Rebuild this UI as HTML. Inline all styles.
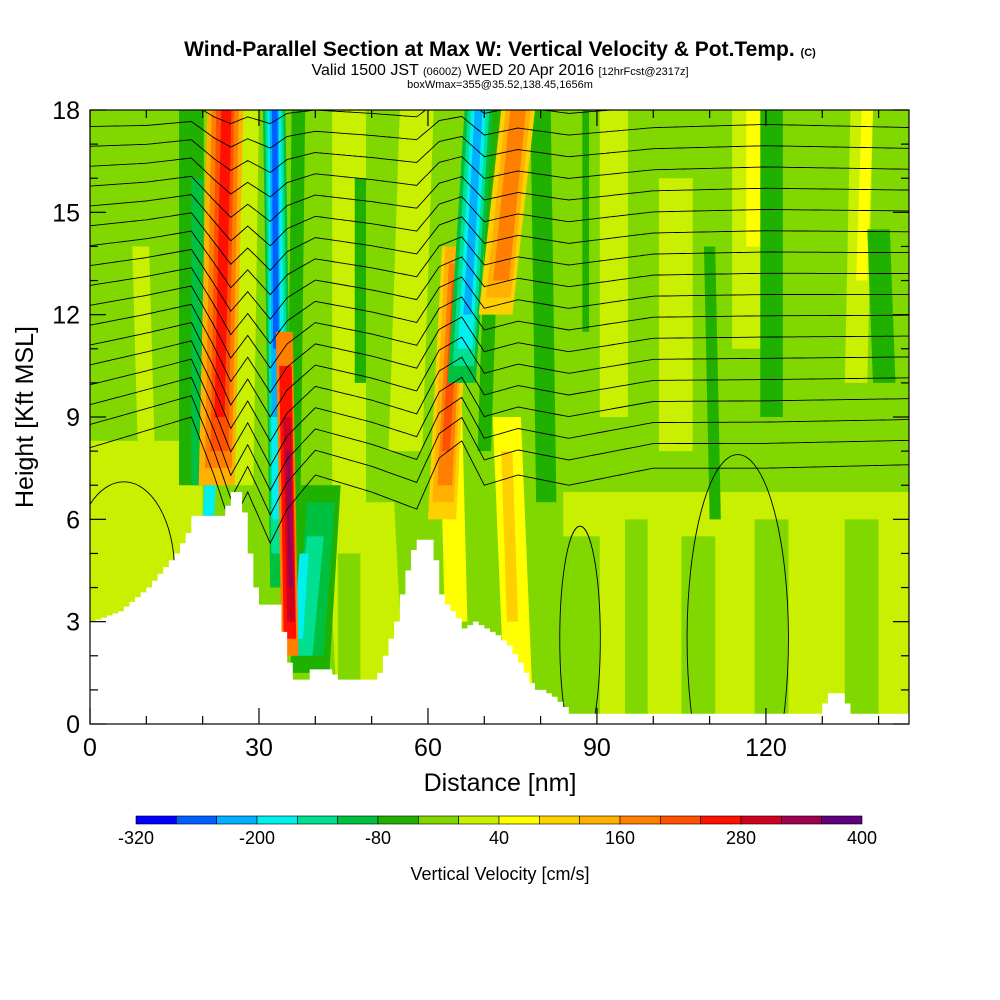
<!DOCTYPE html>
<html><head><meta charset="utf-8"><style>
body{margin:0;background:#fff;}
svg{display:block;font-family:"Liberation Sans",Arial,sans-serif;}
</style></head><body>
<svg id="chart" width="1000" height="1000" viewBox="0 0 1000 1000">
<text x="500" y="56" text-anchor="middle" font-size="21" font-weight="bold">Wind-Parallel Section at Max W: Vertical Velocity &amp; Pot.Temp. <tspan font-size="11">(C)</tspan></text>
<text x="500" y="75" text-anchor="middle" font-size="16">Valid 1500 JST <tspan font-size="11">(0600Z)</tspan> WED 20 Apr 2016 <tspan font-size="11">[12hrFcst@2317z]</tspan></text>
<text x="500" y="88" text-anchor="middle" font-size="11">boxWmax=355@35.52,138.45,1656m</text>
<defs><clipPath id="pc"><rect x="90" y="110" width="819" height="614"/></clipPath></defs>
<g id="field" clip-path="url(#pc)"></g>
<g id="cont" clip-path="url(#pc)"></g>
<g id="terr" clip-path="url(#pc)"></g>
<g id="axes"></g>
<rect x="90" y="110" width="819" height="614" fill="none" stroke="#000" stroke-width="1.2"/>
<text x="500" y="791" text-anchor="middle" font-size="25">Distance [nm]</text>
<text transform="translate(33,417) rotate(-90)" text-anchor="middle" font-size="25">Height [Kft MSL]</text>
<g id="cbar"></g>
<text x="500" y="880" text-anchor="middle" font-size="18">Vertical Velocity [cm/s]</text>
</svg>
<script>
const NS="http://www.w3.org/2000/svg";
const levelColors=["#0000ff","#0060ff","#00b0ff","#00f0f0","#00e090","#00c040","#20b000","#80d800","#c8f000","#ffff00","#ffd000","#ffb000","#ff8000","#ff5000","#ff1000","#d00020","#a00050","#600080"];
const levelTicks=[-320,-200,-80,40,160,280,400];
// streaks: [nm at bottom, nm at top, kft bottom, kft top, half-width nm, level]
const streaks=[
[8,8,0,8.3,12,8],[115,115,0,6.8,31,8],[50,48,0,6.5,6,8],
[87,87,0,5.5,3.5,7],[97,97,0,6,2,7],[108,108,0,5.5,3,7],[121,121,0,6,3,7],[137,137,0,6,3,7],[46,46,0,5,2,7],
[10,9,8,14,1.5,8],[27,28,7,18,2,8],[46,46,6,18,3,8],[56,58,8,18,3,8],
[93,93,9,18,2.5,8],[104,104,8,16,3,8],[117,117,11,18,3,8],[118,118,14,18,1.5,9],[136,137,10,18,2,8],[137,138,13,18,1,9],
[18,18,7,18,2.2,6],[19,19,7,16,1,5],[36,37,4,18,1.2,6],[48,48,10,16,1,6],[70,72,8,18,1.2,6],[81,80,6.5,18,1.8,6],[88,88,11.5,18,0.6,6],[121,121,9,18,2,6],[141,140,10,14.5,2,6],[111,110,6,14,1,6],
[76,74,1,9,2.5,9],[75,74,3,8,1,10],[65,64,3,9.5,2,9],
[39,41,1.5,7,3.5,6],[39,41,2,6.5,2.5,5],[38,40,2,5.5,1.5,4],[37,38,2.5,5,0.8,3],[21,22,6,9,1,3],
[22.5,24,7,18,3.2,11],[22.8,24,7.5,18,2.4,12],[23,24,8,18,1.6,13],[23,24.2,9,18,0.9,14],
[34,32.7,4,18,2,5],[33.8,32.7,5,18,1.6,4],[33.6,32.7,6,18,1.2,3],[33,32.7,9,18,0.8,2],[33,32.8,11,18,0.5,1],
[35.5,34.5,2,11.5,1.5,12],[35.5,34.7,2.5,10.5,1.1,14],[35.7,35,3,9,0.7,15],[35.7,35.2,4,8,0.4,16],
[62.5,65,6,14,2.5,10],[62.7,65,6.5,14,1.9,11],[63,65,7,13.5,1.3,12],[63.2,65,8,13,0.7,13],
[66,69,10,18,2.5,5],[66.3,69,10.5,18,1.9,4],[66.6,69,11,18,1.3,3],[67,69,12,18,0.7,2],
[72,76,12,18,3,10],[72.5,76,12.5,18,2.2,11],[73,76,13,18,1.4,12]
];
// terrain profile
const terrNm=[0,5,10,15,17,18,23,23.5,24,25,26.5,27,28,29,30,31,33,34,35,36,38,39,42,44,50,51,52,53,54,55,56,57,57.5,60,61,62,63,65,66,68,70,72,74,76,78,79,80,82,84,85,86,129,130,131,133,134,135,145];
const terrKft=[3.0,3.3,4,5,5.6,6.1,6.1,5.6,6.4,6.8,6.8,6.2,5,4,3.5,3.5,3.5,2.7,1.8,1.3,1.3,1.6,1.6,1.3,1.3,1.5,2.0,2.5,3,3.8,4.5,5.1,5.4,5.4,4.8,3.8,3.5,3.1,2.8,3,2.8,2.6,2.3,1.8,1.2,1,1,0.8,0.5,0.3,0.3,0.3,0.6,0.9,0.9,0.6,0.3,0.3];
// theta contour base heights and displacement profiles (low vs high levels)
const thetaBase=[7.8,8.5,9.1,9.7,10.3,10.9,11.5,12.1,12.7,13.3,13.9,14.5,15.1,15.7,16.3,16.9,17.5,18.1];
const dispNm=[0,10,18,22,25,28,32,35,40,50,58,62,66,70,76,85,100,120,145];
const dispLow=[0.3,0.8,1.2,-0.5,-2,-1,-2.5,-1.5,-0.5,-1,-1.5,0,0.5,-0.8,-0.5,-0.8,-0.3,-0.3,-0.2];
const dispHigh=[0,0,0.1,-0.3,-0.5,-0.3,-0.5,-0.2,-0.1,-0.2,-0.3,0.2,0.3,-0.2,0,-0.2,0,0.1,0];

const px=n=>90+n*819/145.4, py=k=>724-k*614/18;
const field=document.getElementById('field');
const bg=document.createElementNS(NS,'rect');
bg.setAttribute('x',90);bg.setAttribute('y',110);bg.setAttribute('width',819);bg.setAttribute('height',614);bg.setAttribute('fill',levelColors[7]);


field.appendChild(bg);
streaks.forEach(s=>{
  const [nb,nt,kb,kt,hw,lv]=s;
  const p=document.createElementNS(NS,'path');
  const d=`M${px(nb-hw)},${py(kb)} L${px(nt-hw)},${py(kt)} L${px(nt+hw)},${py(kt)} L${px(nb+hw)},${py(kb)} Z`;
  p.setAttribute('d',d);p.setAttribute('fill',levelColors[lv]);
  
  
  field.appendChild(p);
});
function interp(x,xs,ys){for(let i=1;i<xs.length;i++){if(x<=xs[i]){const t=(x-xs[i-1])/(xs[i]-xs[i-1]);return ys[i-1]+t*(ys[i]-ys[i-1]);}}return ys[ys.length-1];}
const cont=document.getElementById('cont');
thetaBase.forEach((b,i)=>{
  const t=Math.max(0,Math.min(1,(b-7.8)/10.3));
  let d='';
  for(let n=0;n<=146;n+=0.5){const k=b+interp(n,dispNm,dispLow)*(1-t)+interp(n,dispNm,dispHigh)*t;d+=(n?'L':'M')+px(n).toFixed(1)+','+py(k).toFixed(1);}
  const p=document.createElementNS(NS,'path');
  p.setAttribute('d',d);p.setAttribute('fill','none');p.setAttribute('stroke','#000');p.setAttribute('stroke-width','0.9');
  
  
  cont.appendChild(p);
});
[[87,2.5,3.6,3.3],[115,2.5,9,5.4],[6,4.5,9,2.6]].forEach(e=>{
  const el=document.createElementNS(NS,'ellipse');
  el.setAttribute('cx',px(e[0]));el.setAttribute('cy',py(e[1]));el.setAttribute('rx',e[2]*819/145.4);el.setAttribute('ry',e[3]*614/18);
  el.setAttribute('fill','none');el.setAttribute('stroke','#000');el.setAttribute('stroke-width','0.9');
  
  
  cont.appendChild(el);
});
let td=`M${px(0)},${py(0)}`;
for(let n=0;n<=146;n+=1){const k=interp(n,terrNm,terrKft);td+=`L${px(n)},${py(k)}L${px(n+1)},${py(k)}`;}
td+=`L${px(147)},${py(0)}Z`;
const tp=document.createElementNS(NS,'path');tp.setAttribute('d',td);tp.setAttribute('fill','#fff');


document.getElementById('terr').appendChild(tp);
const ax=document.getElementById('axes');
function line(x1,y1,x2,y2,name){const l=document.createElementNS(NS,'line');l.setAttribute('x1',x1);l.setAttribute('y1',y1);l.setAttribute('x2',x2);l.setAttribute('y2',y2);l.setAttribute('stroke','#000');l.setAttribute('stroke-width','1.2');


ax.appendChild(l);}
function text(x,y,s,anchor,size,name,parent){const t=document.createElementNS(NS,'text');t.setAttribute('x',x);t.setAttribute('y',y);t.setAttribute('text-anchor',anchor);t.setAttribute('font-size',size);t.textContent=s;


(parent||ax).appendChild(t);}
const yTicks=[0,3,6,9,12,15,18];
for(let k=0;k<=18;k++){const maj=k%3===0,len=maj?16:8;line(90,py(k),90+len,py(k),'y-tick');line(909,py(k),909-len,py(k),'y-tick-right');}
yTicks.forEach(k=>text(80,py(k)+9,String(k),'end',25,'y-tick-label'));
const xTicks=[0,30,60,90,120];
for(let n=0;n<=140;n+=10){const maj=n%30===0,len=maj?16:8;line(px(n),724,px(n),724-len,'x-tick');line(px(n),110,px(n),110+len,'x-tick-top');}
xTicks.forEach(n=>text(px(n),756,String(n),'middle',25,'x-tick-label'));
const cb=document.getElementById('cbar');
const cx0=136,cw=726/levelColors.length;
levelColors.forEach((c,i)=>{const r=document.createElementNS(NS,'rect');r.setAttribute('x',cx0+i*cw);r.setAttribute('y',816);r.setAttribute('width',cw);r.setAttribute('height',8);r.setAttribute('fill',c);r.setAttribute('stroke','#000');r.setAttribute('stroke-width','0.6');


cb.appendChild(r);});
levelTicks.forEach(v=>text(cx0+(v+320)/40*cw,844,String(v),'middle',18,'colorbar-label',cb));
</script>
</body></html>
